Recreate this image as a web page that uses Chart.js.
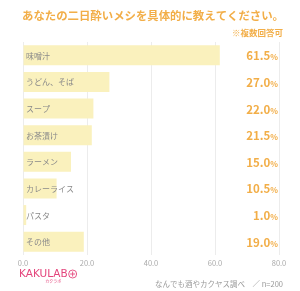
<!DOCTYPE html>
<html>
<head>
<meta charset="utf-8">
<script src="https://cdn.jsdelivr.net/npm/chart.js@4.4.1/dist/chart.umd.min.js"></script>
<style>
  html, body { margin: 0; padding: 0; background: #fff; }
  #wrap { width: 300px; height: 291px; position: relative; }
</style>
</head>
<body>
<div id="wrap"><canvas id="chart" width="300" height="291"></canvas></div>
<script>
const categories = ["味噌汁", "うどん、そば", "スープ", "お茶漬け", "ラーメン", "カレーライス", "パスタ", "その他"];
const values = [61.5, 27.0, 22.0, 21.5, 15.0, 10.5, 1.0, 19.0];
const xTicks = [0, 20, 40, 60, 80];

const FONT = "'Noto Sans CJK JP', 'Noto Sans', sans-serif";
const ORANGE = "#f2ae48";

// labels inside bars + values at right + title/footer
const decor = {
  id: "decor",
  afterDatasetsDraw(chart) {
    const ctx = chart.ctx;
    const meta = chart.getDatasetMeta(0);
    const xs = chart.scales.x;
    ctx.save();
    meta.data.forEach((bar, i) => {
      ctx.textBaseline = "middle";
      ctx.textAlign = "left";
      ctx.fillStyle = "#8a8a8a";
      ctx.font = "8px " + FONT;
      ctx.fillText(categories[i], xs.left + 3, bar.y + 0.5);

      // value + small %
      const right = xs.right - 1;
      ctx.font = "bold 8px " + FONT;
      const pw = ctx.measureText("%").width;
      ctx.fillStyle = ORANGE;
      ctx.textAlign = "right";
      ctx.textBaseline = "alphabetic";
      ctx.fillText("%", right, bar.y + 5);
      ctx.font = "bold 11.5px " + FONT;
      ctx.fillText(values[i].toFixed(1), right - pw, bar.y + 5);
    });

    // title
    ctx.textBaseline = "middle";
    ctx.textAlign = "left";
    ctx.fillStyle = ORANGE;
    ctx.font = "bold 11.4px " + FONT;
    ctx.fillText("あなたの二日酔いメシを具体的に教えてください。", 22, 16);
    ctx.textAlign = "right";
    ctx.font = "bold 8.5px " + FONT;
    ctx.fillText("※複数回答可", 283, 33);

    // footer
    ctx.fillStyle = "#999";
    ctx.font = "7.5px " + FONT;
    ctx.fillText("なんでも酒やカクヤス調べ　／ n=200", 283, 284);

    // logo
    ctx.textAlign = "left";
    ctx.fillStyle = "#e4457c";
    ctx.font = "10.5px 'DejaVu Sans', sans-serif";
    ctx.fillText("KAKULAB", 19, 274);
    const lw = ctx.measureText("KAKULAB").width;
    ctx.strokeStyle = "#e4457c";
    ctx.lineWidth = 0.9;
    ctx.beginPath();
    ctx.arc(19 + lw + 5, 274, 4, 0, Math.PI * 2);
    ctx.moveTo(19 + lw + 2.5, 274);
    ctx.lineTo(19 + lw + 7.5, 274);
    ctx.moveTo(19 + lw + 5, 271.5);
    ctx.lineTo(19 + lw + 5, 276.5);
    ctx.stroke();
    ctx.font = "4px " + FONT;
    ctx.textAlign = "center";
    ctx.fillText("カクラボ", 19 + lw / 2 + 10, 281);
    ctx.restore();
  }
};

new Chart(document.getElementById("chart"), {
  type: "bar",
  data: {
    labels: categories,
    datasets: [{
      data: values,
      backgroundColor: "#faf1bd",
      borderWidth: 0,
      categoryPercentage: 1,
      barPercentage: 0.75
    }]
  },
  options: {
    indexAxis: "y",
    responsive: false,
    animation: false,
    layout: { padding: { left: 23, right: 21, top: 42, bottom: 19 } },
    plugins: { legend: { display: false }, tooltip: { enabled: false }, title: { display: false } },
    scales: {
      x: {
        min: xTicks[0],
        max: xTicks[xTicks.length - 1],
        afterBuildTicks: axis => { axis.ticks = xTicks.map(v => ({ value: v })); },
        grid: { color: "#ececec", drawTicks: false },
        border: { display: false },
        ticks: {
          padding: 4,
          color: "#aaa",
          font: { size: 7.5, family: FONT },
          callback: v => Number(v).toFixed(1)
        }
      },
      y: { display: false }
    }
  },
  plugins: [decor]
});
</script>
</body>
</html>
